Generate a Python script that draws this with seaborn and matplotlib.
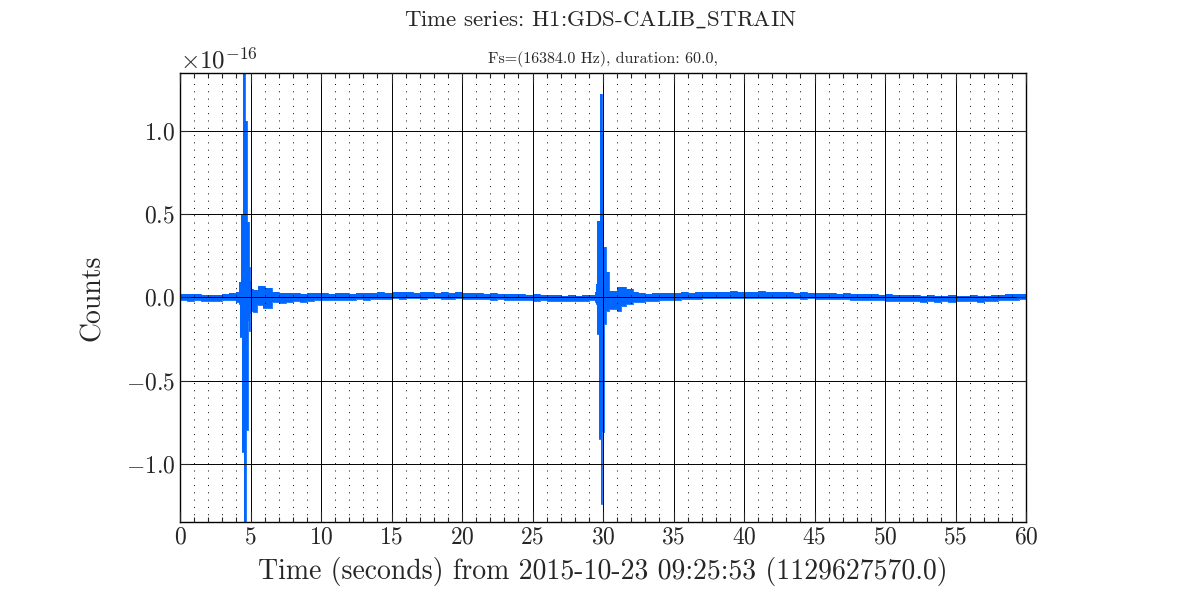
import matplotlib
matplotlib.use("Agg")
import matplotlib.pyplot as plt
import matplotlib.ticker as mticker
import numpy as np
import pandas as pd
import seaborn as sns

# strain envelope, in units of 1e-16
# (time in s, top and bottom of the noisy trace, held until the next time)
times = [0.0, 0.5, 1.0, 1.5, 2.0, 2.5, 3.0, 3.5,
         4.0, 4.15, 4.22, 4.35, 4.42, 4.5, 4.55, 4.62, 4.7, 4.75, 4.84, 4.87, 4.96,
         5.05, 5.2, 5.45, 5.55, 5.9, 6.0, 6.5, 7.0, 7.5, 8.0, 8.5, 9.0, 9.5,
         10.0, 10.5, 11.0, 11.5, 12.0, 12.5, 13.0, 13.5, 14.0, 14.5,
         15.0, 15.5, 16.0, 16.5, 17.0, 17.5, 18.0, 18.5, 19.0, 19.5,
         20.0, 20.5, 21.0, 21.5, 22.0, 22.5, 23.0, 23.5, 24.0, 24.5,
         25.0, 25.5, 26.0, 26.5, 27.0, 27.5, 28.0, 28.5, 29.0,
         29.4, 29.5, 29.55, 29.6, 29.72, 29.79, 29.86, 29.9, 29.95, 30.0, 30.1, 30.2,
         30.4, 31.0, 31.3, 31.6, 32.1, 32.5, 33.0, 33.5, 34.0, 34.5,
         35.0, 35.5, 36.0, 36.5, 37.0, 37.5, 38.0, 38.5, 39.0, 39.5,
         40.0, 40.5, 41.0, 41.5, 42.0, 42.5, 43.0, 43.5, 44.0, 44.5,
         45.0, 45.5, 46.0, 46.5, 47.0, 47.5, 48.0, 48.5, 49.0, 49.5,
         50.0, 50.5, 51.0, 51.5, 52.0, 52.5, 53.0, 53.5, 54.0, 54.5,
         55.0, 55.5, 56.0, 56.5, 57.0, 57.5, 58.0, 58.5, 59.0, 59.5, 60.0]

upper = [0.022, 0.018, 0.020, 0.014, 0.016, 0.012, 0.018, 0.024,
         0.030, 0.09, 0.09, 0.50, 0.50, 2.00, 2.00, 1.06, 1.06, 0.45, 0.45, 0.18, 0.10,
         0.05, 0.044, 0.044, 0.068, 0.068, 0.054, 0.034, 0.028, 0.026, 0.024, 0.022, 0.026, 0.024,
         0.026, 0.022, 0.028, 0.024, 0.020, 0.026, 0.024, 0.028, 0.030, 0.026,
         0.032, 0.030, 0.034, 0.028, 0.030, 0.032, 0.028, 0.030, 0.026, 0.030,
         0.028, 0.024, 0.026, 0.022, 0.024, 0.020, 0.022, 0.018, 0.020, 0.016,
         0.018, 0.014, 0.012, 0.014, 0.010, 0.012, 0.008, 0.012, 0.016,
         0.030, 0.08, 0.08, 0.46, 0.46, 1.22, 1.22, 0.98, 0.98, 0.30, 0.30, 0.15,
         0.040, 0.064, 0.064, 0.050, 0.030, 0.026, 0.022, 0.026, 0.024, 0.028,
         0.026, 0.030, 0.028, 0.032, 0.030, 0.034, 0.030, 0.032, 0.036, 0.030,
         0.034, 0.032, 0.036, 0.030, 0.034, 0.030, 0.032, 0.028, 0.030, 0.026,
         0.028, 0.024, 0.026, 0.022, 0.024, 0.020, 0.022, 0.018, 0.020, 0.016,
         0.018, 0.014, 0.016, 0.012, 0.014, 0.010, 0.012, 0.008, 0.010, 0.012,
         0.008, 0.010, 0.012, 0.008, 0.010, 0.014, 0.016, 0.018, 0.020, 0.022, 0.022]

lower = [-0.016, -0.020, -0.018, -0.022, -0.024, -0.020, -0.018, -0.016,
         -0.030, -0.04, -0.24, -0.24, -0.93, -0.93, -2.00, -2.00, -0.80, -0.80, -0.14, -0.20, -0.10,
         -0.08, -0.086, -0.046, -0.046, -0.066, -0.066, -0.026, -0.036, -0.030, -0.022, -0.026, -0.020, -0.018,
         -0.016, -0.018, -0.014, -0.016, -0.018, -0.012, -0.014, -0.010, -0.012, -0.008,
         -0.006, -0.008, -0.004, -0.006, -0.008, -0.004, -0.006, -0.008, -0.010, -0.006,
         -0.008, -0.010, -0.012, -0.010, -0.014, -0.012, -0.016, -0.014, -0.018, -0.016,
         -0.020, -0.018, -0.022, -0.020, -0.024, -0.022, -0.024, -0.020, -0.018,
         -0.030, -0.04, -0.22, -0.22, -0.85, -0.85, -1.24, -1.24, -0.81, -0.81, -0.16, -0.08,
         -0.068, -0.080, -0.050, -0.040, -0.030, -0.026, -0.024, -0.020, -0.018, -0.016,
         -0.014, -0.012, -0.010, -0.008, -0.006, -0.004, -0.006, -0.002, -0.004, -0.006,
         -0.002, -0.004, -0.006, -0.004, -0.002, -0.006, -0.004, -0.006, -0.008, -0.006,
         -0.010, -0.008, -0.012, -0.010, -0.012, -0.014, -0.016, -0.014, -0.018, -0.016,
         -0.020, -0.022, -0.020, -0.024, -0.022, -0.026, -0.024, -0.026, -0.022, -0.026,
         -0.024, -0.022, -0.024, -0.026, -0.022, -0.020, -0.018, -0.016, -0.014, -0.012, -0.012]

scale = 1e-16
trace_color = "#0066ff"

df = pd.DataFrame({"t": times,
                   "hi": np.array(upper) * scale,
                   "lo": np.array(lower) * scale})

sns.set_style("ticks")
plt.rcParams["font.family"] = ["cmr10", "DejaVu Serif"]
plt.rcParams["mathtext.fontset"] = "cm"
plt.rcParams["axes.formatter.use_mathtext"] = True
plt.rcParams["axes.unicode_minus"] = True

fig = plt.figure(figsize=(12, 6), dpi=100)
ax = fig.add_axes([0.15, 0.13, 0.705, 0.749])

ax.fill_between(df["t"], df["lo"], df["hi"], step="post", color=trace_color, lw=0)
sns.lineplot(data=df, x="t", y="hi", ax=ax, color=trace_color, lw=0.6,
             drawstyle="steps-post", estimator=None, sort=False)
sns.lineplot(data=df, x="t", y="lo", ax=ax, color=trace_color, lw=0.6,
             drawstyle="steps-post", estimator=None, sort=False)

ax.set_xlim(0, 60)
ax.set_ylim(-1.35e-16, 1.35e-16)
ax.xaxis.set_major_locator(mticker.MultipleLocator(5))
ax.xaxis.set_minor_locator(mticker.MultipleLocator(1))
ax.yaxis.set_major_locator(mticker.MultipleLocator(0.5e-16))

ax.set_axisbelow(False)
ax.grid(True, which="major", color="black", lw=0.7, ls="-")
ax.grid(True, which="minor", axis="x", color="black", lw=0.7, ls=(0, (1, 6.5)))

ax.tick_params(which="both", direction="in", top=True, right=True, labelsize=17)
ax.tick_params(which="major", length=7, width=0.8)
ax.tick_params(which="minor", length=3.5, width=0.8)
ax.yaxis.get_offset_text().set_fontsize(18)
for s in ax.spines.values():
    s.set_linewidth(1)
    s.set_color("black")

ax.set_xlabel("Time (seconds) from 2015-10-23 09:25:53 (1129627570.0)", fontsize=20, labelpad=6)
ax.set_ylabel("Counts", fontsize=20, labelpad=14)
ax.set_title("Fs=(16384.0 Hz), duration: 60.0,", fontsize=11.5, pad=7)
fig.suptitle(r"Time series: H1:GDS-CALIB$\_$STRAIN", fontsize=16.5, y=0.967, va="center")

fig.savefig("out.png", dpi=100)
